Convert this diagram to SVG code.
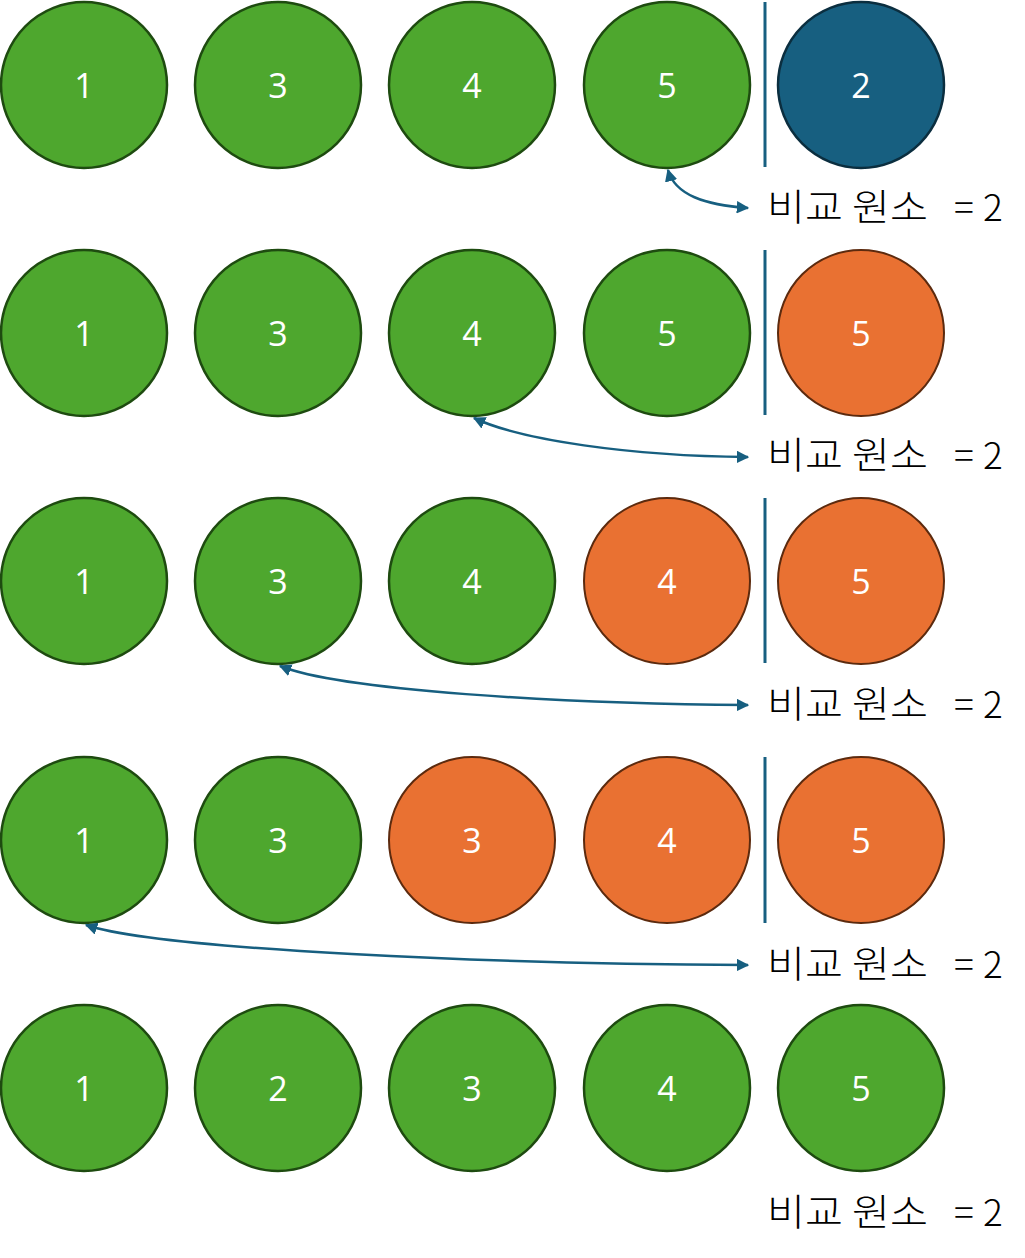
<svg xmlns="http://www.w3.org/2000/svg" width="1025" height="1258" viewBox="0 0 1025 1258">
<defs>
<style>
.g{fill:#4EA72E;stroke:#1E4B10;stroke-width:2.5}
.o{fill:#E97132;stroke:#5C2A0E;stroke-width:2}
.b{fill:#175F80;stroke:#0B2E3F;stroke-width:2.5}
.n{font-family:"Open Sans","Noto Sans",sans-serif;font-size:34px;fill:#fff;text-anchor:middle;dominant-baseline:central}
.lbl{font-family:"Noto Sans CJK KR","Noto Sans",sans-serif;font-size:37px;font-weight:300;fill:#000}
.sep{stroke:#175F80;stroke-width:3}
.arr{fill:none;stroke:#175F80;stroke-width:2.5;marker-start:url(#ah);marker-end:url(#ah)}
</style>
<marker id="ah" viewBox="0 0 10 10" refX="9" refY="5" markerWidth="5" markerHeight="5" orient="auto-start-reverse" markerUnits="strokeWidth">
<path d="M0,0 L10,5 L0,10 z" fill="#175F80"/>
</marker>
</defs>
<g id="row1">
<g id="r1c1"><circle class="g" cx="84" cy="85" r="83"/><text class="n" x="84" y="85">1</text></g>
<g id="r1c2"><circle class="g" cx="278" cy="85" r="83"/><text class="n" x="278" y="85">3</text></g>
<g id="r1c3"><circle class="g" cx="472" cy="85" r="83"/><text class="n" x="472" y="85">4</text></g>
<g id="r1c4"><circle class="g" cx="667" cy="85" r="83"/><text class="n" x="667" y="85">5</text></g>
<g id="r1c5"><circle class="b" cx="861" cy="85" r="83"/><text class="n" x="861" y="85">2</text></g>
<text class="lbl" y="221"><tspan x="767" textLength="161" lengthAdjust="spacingAndGlyphs">비교 원소</tspan><tspan x="954">=</tspan><tspan x="983">2</tspan></text>
</g>
<g id="row2">
<g id="r2c1"><circle class="g" cx="84" cy="333" r="83"/><text class="n" x="84" y="333">1</text></g>
<g id="r2c2"><circle class="g" cx="278" cy="333" r="83"/><text class="n" x="278" y="333">3</text></g>
<g id="r2c3"><circle class="g" cx="472" cy="333" r="83"/><text class="n" x="472" y="333">4</text></g>
<g id="r2c4"><circle class="g" cx="667" cy="333" r="83"/><text class="n" x="667" y="333">5</text></g>
<g id="r2c5"><circle class="o" cx="861" cy="333" r="83"/><text class="n" x="861" y="333">5</text></g>
<text class="lbl" y="469"><tspan x="767" textLength="161" lengthAdjust="spacingAndGlyphs">비교 원소</tspan><tspan x="954">=</tspan><tspan x="983">2</tspan></text>
</g>
<g id="row3">
<g id="r3c1"><circle class="g" cx="84" cy="581" r="83"/><text class="n" x="84" y="581">1</text></g>
<g id="r3c2"><circle class="g" cx="278" cy="581" r="83"/><text class="n" x="278" y="581">3</text></g>
<g id="r3c3"><circle class="g" cx="472" cy="581" r="83"/><text class="n" x="472" y="581">4</text></g>
<g id="r3c4"><circle class="o" cx="667" cy="581" r="83"/><text class="n" x="667" y="581">4</text></g>
<g id="r3c5"><circle class="o" cx="861" cy="581" r="83"/><text class="n" x="861" y="581">5</text></g>
<text class="lbl" y="718"><tspan x="767" textLength="161" lengthAdjust="spacingAndGlyphs">비교 원소</tspan><tspan x="954">=</tspan><tspan x="983">2</tspan></text>
</g>
<g id="row4">
<g id="r4c1"><circle class="g" cx="84" cy="840" r="83"/><text class="n" x="84" y="840">1</text></g>
<g id="r4c2"><circle class="g" cx="278" cy="840" r="83"/><text class="n" x="278" y="840">3</text></g>
<g id="r4c3"><circle class="o" cx="472" cy="840" r="83"/><text class="n" x="472" y="840">3</text></g>
<g id="r4c4"><circle class="o" cx="667" cy="840" r="83"/><text class="n" x="667" y="840">4</text></g>
<g id="r4c5"><circle class="o" cx="861" cy="840" r="83"/><text class="n" x="861" y="840">5</text></g>
<text class="lbl" y="978"><tspan x="767" textLength="161" lengthAdjust="spacingAndGlyphs">비교 원소</tspan><tspan x="954">=</tspan><tspan x="983">2</tspan></text>
</g>
<g id="row5">
<g id="r5c1"><circle class="g" cx="84" cy="1088" r="83"/><text class="n" x="84" y="1088">1</text></g>
<g id="r5c2"><circle class="g" cx="278" cy="1088" r="83"/><text class="n" x="278" y="1088">2</text></g>
<g id="r5c3"><circle class="g" cx="472" cy="1088" r="83"/><text class="n" x="472" y="1088">3</text></g>
<g id="r5c4"><circle class="g" cx="667" cy="1088" r="83"/><text class="n" x="667" y="1088">4</text></g>
<g id="r5c5"><circle class="g" cx="861" cy="1088" r="83"/><text class="n" x="861" y="1088">5</text></g>
<text class="lbl" y="1226"><tspan x="767" textLength="161" lengthAdjust="spacingAndGlyphs">비교 원소</tspan><tspan x="954">=</tspan><tspan x="983">2</tspan></text>
</g>
<g id="connectors">
<line class="sep" x1="765" y1="2" x2="765" y2="167"/>
<line class="sep" x1="765" y1="250" x2="765" y2="415"/>
<line class="sep" x1="765" y1="498" x2="765" y2="663"/>
<line class="sep" x1="765" y1="757" x2="765" y2="923"/>
<path class="arr" d="M668,170 C675,195 705,205 748,208"/>
<path class="arr" d="M474,418 C520,440 630,456 748,457"/>
<path class="arr" d="M280,666 C340,690 560,704 748,705"/>
<path class="arr" d="M86,925 C160,950 500,964 748,965"/>
</g>
</svg>
